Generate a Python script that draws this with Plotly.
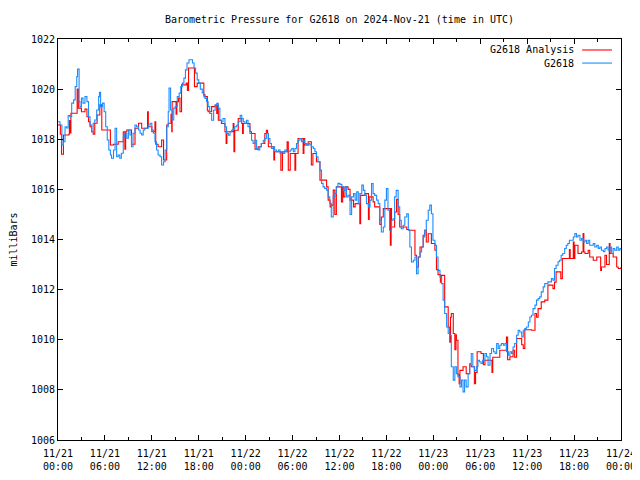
import pandas as pd
import plotly.graph_objects as go

title_text = "Barometric Pressure for G2618 on 2024-Nov-21 (time in UTC)"
start_time = "2024-11-21 00:00"

# G2618 observed (hours since start, millibars)
obs_hours = [0.0,0.25,0.5,0.7,0.9,1.1,1.3,1.5,1.75,2.0,2.2,2.4,2.5,2.7,2.8,3.0,3.2,3.45,3.7,3.9,
 4.1,4.3,4.5,4.7,4.95,5.2,5.3,5.45,5.7,5.9,6.1,6.3,6.5,6.7,6.85,7.1,7.3,7.5,7.7,7.9,
 8.1,8.35,8.55,8.8,9.0,9.2,9.4,9.6,9.85,10.05,10.3,10.5,10.7,10.9,11.1,11.35,11.55,11.8,12.0,12.2,
 12.4,12.6,12.8,13.05,13.25,13.5,13.7,13.9,14.1,14.2,14.4,14.6,14.8,15.0,15.25,15.5,15.7,15.9,16.1,16.3,
 16.5,16.75,16.95,17.2,17.4,17.6,17.8,18.0,18.2,18.45,18.65,18.8,19.0,19.2,19.4,19.65,19.9,20.1,20.3,20.5,
 20.7,20.9,21.1,21.35,21.55,21.8,22.0,22.2,22.4,22.6,22.85,23.05,23.3,23.5,23.7,23.9,24.1,24.3,24.55,24.75,
 24.95,25.2,25.4,25.6,25.8,26.0,26.25,26.45,26.65,26.9,27.1,27.3,27.5,27.7,27.95,28.2,28.4,28.6,28.8,29.0,
 29.25,29.45,29.7,29.9,30.1,30.3,30.5,30.7,30.95,31.15,31.35,31.55,31.8,32.0,32.2,32.4,32.65,32.85,33.05,33.25,
 33.5,33.7,33.9,34.1,34.35,34.55,34.75,34.95,35.2,35.4,35.6,35.8,36.05,36.3,36.5,36.7,36.9,37.1,37.35,37.55,
 37.8,38.0,38.2,38.4,38.6,38.85,39.05,39.25,39.45,39.7,39.9,40.1,40.3,40.5,40.75,40.95,41.15,41.35,41.6,41.8,
 42.0,42.2,42.4,42.65,42.85,43.05,43.25,43.5,43.7,43.9,44.15,44.35,44.6,44.8,45.0,45.2,45.45,45.65,45.85,46.05,
 46.3,46.5,46.7,46.9,47.1,47.35,47.55,47.75,47.95,48.2,48.4,48.6,48.85,49.05,49.25,49.45,49.7,49.9,50.1,50.3,
 50.55,50.75,50.95,51.15,51.4,51.6,51.8,52.0,52.2,52.45,52.65,52.85,53.05,53.25,53.5,53.7,53.9,54.1,54.3,54.6,
 54.8,55.0,55.25,55.45,55.7,55.9,56.1,56.3,56.5,56.7,56.95,57.15,57.35,57.6,57.8,58.0,58.2,58.4,58.65,58.85,
 59.05,59.3,59.5,59.7,59.9,60.15,60.35,60.55,60.75,61.0,61.2,61.4,61.6,61.8,62.05,62.25,62.45,62.65,62.9,63.1,
 63.3,63.5,63.7,63.95,64.15,64.35,64.55,64.8,65.0,65.2,65.4,65.7,65.9,66.1,66.3,66.5,66.75,66.95,67.15,67.4,
 67.6,67.8,68.0,68.25,68.45,68.65,68.9,69.1,69.3,69.5,69.75,69.95,70.15,70.35,70.6,70.8,71.0,71.2,71.45,71.65,
 71.85,72.0]
obs_mbar = [1018.7,1018.57,1017.77,1017.9,1018.5,1018.45,1018.95,1018.9,1019.44,1019.57,1020.1,1020.5,1020.8,1019.5,1019.3,1019.64,1019.44,1019.7,1019.5,1018.9,
 1018.57,1018.3,1018.64,1018.77,1019.17,1019.7,1019.87,1019.3,1019.44,1019.1,1018.5,1017.97,1017.57,1017.37,1017.24,1017.57,1018.44,1017.3,1017.37,1017.24,
 1017.44,1018.1,1018.24,1018.04,1018.37,1018.17,1017.7,1018.24,1018.57,1018.5,1018.37,1018.24,1018.17,1018.37,1018.44,1018.44,1018.57,1018.64,1018.37,1018.24,
 1017.9,1017.57,1017.37,1017.3,1016.97,1017.1,1017.57,1018.5,1019.1,1020.04,1019.17,1018.77,1019.24,1019.3,1019.7,1019.84,1020.1,1020.24,1020.44,1020.77,
 1021.04,1021.17,1021.17,1021.04,1020.84,1020.64,1020.37,1020.24,1020.0,1019.85,1019.7,1019.63,1019.5,1019.3,1019.03,1018.76,1019.16,1019.36,1019.43,1019.23,
 1018.76,1018.7,1018.83,1018.5,1018.23,1018.16,1018.3,1018.36,1018.43,1018.5,1018.56,1018.7,1018.96,1018.83,1018.7,1018.63,1018.76,1018.5,1018.23,1017.96,
 1017.83,1017.96,1017.63,1017.57,1017.7,1017.83,1017.96,1018.03,1018.23,1018.03,1017.83,1017.63,1017.7,1017.57,1017.5,1017.57,1017.43,1017.5,1017.43,1017.57,
 1017.5,1017.5,1017.57,1017.63,1017.5,1017.63,1017.83,1017.96,1018.03,1017.9,1017.96,1017.83,1017.77,1017.83,1017.77,1017.7,1017.63,1017.5,1017.3,1017.1,
 1016.77,1016.24,1016.1,1016.04,1015.97,1015.7,1015.44,1014.9,1015.7,1015.84,1016.1,1016.24,1016.2,1016.1,1015.96,1016.1,1015.7,1015.76,1015.0,1015.7,
 1015.83,1015.57,1015.9,1015.43,1015.83,1016.17,1015.96,1015.76,1015.43,1015.3,1015.57,1016.23,1015.83,1015.76,1015.57,1015.43,1014.77,1014.3,1014.5,1015.57,
 1016.03,1015.17,1014.37,1014.77,1014.83,1015.7,1015.96,1015.3,1014.77,1014.43,1014.57,1014.9,1015.03,1014.37,1013.7,1013.1,1013.17,1013.3,1012.64,1013.3,
 1013.5,1013.7,1014.1,1014.37,1014.77,1015.17,1015.37,1015.03,1013.97,1013.77,1013.3,1012.77,1012.5,1012.24,1011.58,1011.05,1010.51,1010.25,1010.18,1008.92,
 1008.39,1008.92,1008.65,1008.52,1008.12,1008.39,1007.92,1008.39,1008.12,1008.65,1009.05,1009.45,1008.92,1008.78,1008.92,1009.18,1009.12,1009.05,1009.18,1009.45,
 1009.32,1008.98,1009.45,1009.65,1009.52,1009.45,1009.85,1009.65,1009.78,1009.85,1009.78,1009.85,1009.52,1009.38,1009.52,1009.45,1009.71,1009.85,1010.18,1010.38,
 1010.31,1010.11,1010.38,1010.45,1010.51,1010.71,1010.91,1010.98,1011.24,1011.38,1011.58,1011.64,1011.71,1011.91,1012.11,1012.24,1012.24,1012.31,1012.31,1012.44,
 1012.38,1012.84,1012.97,1013.11,1013.17,1013.37,1013.44,1013.64,1013.77,1013.84,1013.97,1013.97,1014.1,1014.24,1014.1,1014.17,1013.97,1014.04,1013.9,1013.97,
 1013.84,1013.97,1013.77,1013.77,1013.84,1013.7,1013.77,1013.64,1013.7,1013.57,1013.51,1013.64,1013.7,1013.57,1013.7,1013.44,1013.64,1013.57,1013.7,1013.57,
 1013.64,1013.6]

# G2618 Analysis (hours since start, millibars)
ana_hours = [0.0,0.3,0.45,0.7,1.4,1.45,1.55,1.65,2.4,2.45,2.6,3.0,3.45,3.7,3.9,4.1,4.3,4.5,4.7,5.0,
 5.35,5.6,6.0,6.7,7.1,7.7,8.35,8.55,8.65,8.8,9.4,9.85,10.3,10.7,11.45,11.55,12.0,12.4,12.5,12.8,
 13.25,13.5,13.9,14.1,14.45,14.55,14.6,15.1,15.2,15.4,15.6,15.8,16.4,16.55,16.7,17.3,17.45,17.8,18.4,18.65,
 18.8,19.1,19.2,19.65,20.1,20.3,20.4,20.5,20.9,21.35,21.5,21.6,22.4,22.5,22.6,23.05,23.5,23.6,23.7,24.3,
 24.55,24.75,25.2,25.6,26.0,26.45,26.65,26.8,26.9,27.6,27.7,28.5,28.7,29.3,29.45,29.7,30.3,30.4,30.7,31.35,
 31.45,31.55,32.0,32.4,32.6,33.05,33.5,34.35,34.55,34.8,34.95,35.2,35.4,35.6,36.05,36.25,36.4,36.5,36.7,37.1,
 37.35,37.8,38.0,38.6,38.7,39.25,39.7,39.8,40.3,40.5,41.15,41.35,41.6,42.5,42.6,42.65,43.05,43.3,43.5,43.7,
 44.15,44.6,44.9,45.65,45.85,46.1,46.3,46.7,46.9,47.1,47.35,47.75,48.2,48.4,48.6,48.9,49.05,49.45,49.9,50.1,
 50.2,50.3,50.55,50.75,50.9,50.95,51.15,51.3,51.4,51.8,52.2,52.65,52.85,53.25,53.4,53.6,54.1,54.4,54.6,55.5,
 55.6,56.5,57.35,57.5,57.8,58.2,58.4,58.65,59.3,59.5,59.7,60.55,61.0,61.2,61.4,61.8,62.25,62.65,63.3,63.5,
 63.7,64.3,64.5,65.4,65.5,65.9,66.0,66.1,66.5,66.95,67.15,67.25,67.4,67.8,68.0,68.45,68.9,69.4,69.5,69.95,
 70.15,70.5,70.6,71.0,71.45,71.65,72.0]
ana_mbar = [1018.57,1018.2,1017.4,1018.17,1018.2,1018.75,1018.25,1019.04,1019.04,1020.0,1019.24,1019.1,1019.2,1018.9,1018.7,1018.5,1018.3,1018.2,1018.64,1018.97,
 1019.37,1018.37,1018.37,1017.77,1017.8,1017.9,1018.3,1017.6,1018.3,1018.37,1017.8,1018.44,1018.64,1018.44,1019.1,1018.5,1018.3,1018.7,1017.8,1017.7,
 1017.97,1017.17,1018.57,1018.64,1019.0,1018.3,1019.5,1019.0,1019.5,1019.64,1019.1,1020.17,1020.24,1019.95,1020.84,1020.84,1020.1,1020.24,1020.24,1019.77,
 1019.7,1019.16,1019.1,1019.3,1019.36,1019.03,1019.36,1018.76,1018.63,1018.3,1017.83,1018.3,1018.63,1017.5,1018.36,1018.83,1018.63,1018.23,1018.63,1018.63,
 1018.3,1018.23,1017.6,1017.7,1017.83,1018.23,1018.36,1018.23,1017.7,1017.17,1017.5,1016.77,1017.5,1017.9,1016.77,1017.43,1016.77,1017.43,1018.03,1017.43,
 1018.03,1017.77,1017.9,1016.97,1017.43,1017.1,1016.37,1016.1,1015.57,1015.3,1015.37,1015.97,1015.0,1016.1,1016.1,1015.5,1016.1,1015.7,1016.1,1016.0,
 1015.57,1015.3,1015.43,1014.63,1015.76,1015.83,1014.8,1015.7,1015.5,1015.3,1014.6,1014.9,1015.23,1013.77,1015.23,1014.5,1015.1,1015.6,1015.0,1014.5,
 1014.5,1014.4,1014.37,1013.37,1012.9,1013.3,1013.7,1014.17,1014.37,1013.9,1014.23,1013.84,1013.57,1012.8,1012.6,1012.3,1012.57,1011.31,1010.51,1009.9,
 1010.9,1011.05,1010.25,1009.6,1010.2,1009.98,1008.6,1008.25,1008.78,1008.92,1008.65,1009.0,1008.92,1008.25,1008.7,1009.52,1009.45,1009.0,1009.18,1008.7,
 1009.3,1009.58,1010.11,1009.2,1009.32,1009.58,1009.3,1010.05,1009.8,1009.65,1010.4,1010.38,1011.05,1010.9,1011.24,1011.51,1011.58,1012.18,1012.04,1012.3,
 1012.71,1012.44,1013.24,1013.6,1013.24,1013.9,1013.24,1013.77,1013.44,1013.5,1014.24,1013.5,1013.44,1013.57,1013.3,1013.17,1013.3,1012.77,1012.9,1013.37,
 1013.0,1013.84,1013.44,1013.3,1012.9,1012.84,1012.9]

tick_hours = [0, 6, 12, 18, 24, 30, 36, 42, 48, 54, 60, 66, 72]
tick_labels = ["11/21<br>00:00", "11/21<br>06:00", "11/21<br>12:00", "11/21<br>18:00",
               "11/22<br>00:00", "11/22<br>06:00", "11/22<br>12:00", "11/22<br>18:00",
               "11/23<br>00:00", "11/23<br>06:00", "11/23<br>12:00", "11/23<br>18:00",
               "11/24<br>00:00"]
y_ticks = [1006, 1008, 1010, 1012, 1014, 1016, 1018, 1020, 1022]

base = pd.Timestamp(start_time)
to_time = lambda hrs: [base + pd.Timedelta(hours=h) for h in hrs]

FONT = "DejaVu Sans Mono"
RED = "#ff0000"
BLUE = "#1a8cff"

fig = go.Figure()
fig.add_trace(go.Scatter(x=to_time(ana_hours), y=ana_mbar, mode="lines", name="G2618 Analysis",
                         line=dict(color=RED, width=1.1, shape="hv")))
fig.add_trace(go.Scatter(x=to_time(obs_hours), y=obs_mbar, mode="lines", name="G2618",
                         line=dict(color=BLUE, width=1.1, shape="hv")))

# the page body adds an 8px offset, so the figure is 8px smaller on each axis
fig.update_layout(
    width=632, height=472,
    margin=dict(l=50, r=19, t=31, b=40, autoexpand=False),
    paper_bgcolor="white", plot_bgcolor="white",
    showlegend=False,
    font=dict(family=FONT, size=10, color="black"),
    title=dict(text=title_text, x=0.5, xref="paper", y=1 - 11 / 472, yanchor="middle",
               font=dict(family=FONT, size=10, color="black")),
)
fig.update_xaxes(
    type="date",
    range=[base, base + pd.Timedelta(hours=72)],
    tickvals=to_time(tick_hours), ticktext=tick_labels,
    ticks="inside", ticklen=5, tickcolor="black", ticklabelstandoff=4,
    minor=dict(dtick=3 * 3600 * 1000, tick0=base, ticks="inside", ticklen=3, tickcolor="black"),
    showline=True, linecolor="black", linewidth=1, mirror="ticks",
    showgrid=False, zeroline=False, automargin=False,
    tickfont=dict(family=FONT, size=10, color="black"),
)
fig.update_yaxes(
    range=[1006, 1022], tickvals=y_ticks,
    ticks="inside", ticklen=5, tickcolor="black",
    showline=True, linecolor="black", linewidth=1, mirror="ticks",
    showgrid=False, zeroline=False, automargin=False,
    title=dict(text="milliBars", standoff=17, font=dict(family=FONT, size=10, color="black")),
    tickfont=dict(family=FONT, size=10, color="black"),
)

# gnuplot-style legend (text right-aligned, sample line to the right)
legend_rows = [("G2618 Analysis", RED, 0.9726), ("G2618", BLUE, 0.940)]
for label, color, ypos in legend_rows:
    fig.add_annotation(x=0.920, y=ypos, xref="paper", yref="paper", text=label,
                       showarrow=False, xanchor="right", yanchor="middle",
                       font=dict(family=FONT, size=10, color="black"))
    fig.add_shape(type="line", xref="paper", yref="paper", x0=0.931, x1=0.984, y0=ypos, y1=ypos,
                  line=dict(color=color, width=1.1))

fig.write_html("out.html")
